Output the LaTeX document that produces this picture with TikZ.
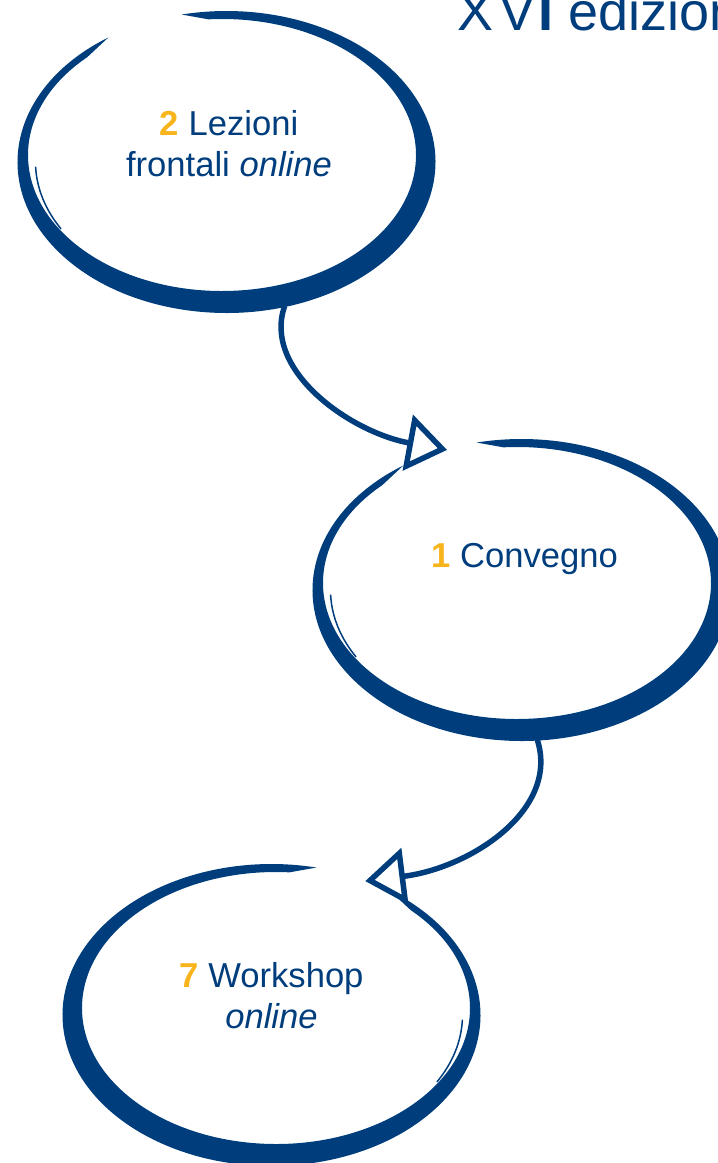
\documentclass[tikz,border=0pt]{standalone}
\usepackage{fontspec}
\setmainfont{Liberation Sans}
\usetikzlibrary{arrows.meta,shapes.geometric}

\definecolor{inkblue}{RGB}{0,61,125}
\definecolor{numorange}{RGB}{247,180,27}

\tikzset{every picture/.style={line width=0.75pt}}
\tikzset{
  ring/.style={ellipse, minimum width=208pt, minimum height=150pt, inner sep=0pt, outer sep=0pt},
  txt/.style={font=\fontsize{17.3}{20.5}\selectfont, text=inkblue, align=center, inner sep=0pt},
  connector/.style={draw=inkblue, line width=2.75pt, -{Triangle[open,length=20pt,width=28pt,line width=2.75pt]}},
}

\newcommand{\stepnum}[1]{\textcolor{numorange}{\textbf{#1}}}
% brush stroke round a ring node, #2 = 1 or -1 (mirror)
\newcommand{\brushring}[2]{%
  \begin{scope}[shift={(#1.center)},xscale=#2]
  \fill[inkblue] (235.6:209 and 151) arc[start angle=235.6,end angle=-102.4,x radius=209,y radius=151]
    -- ([shift={(-4.5,-7)}]-94:194 and 136) arc[start angle=-94,end angle=226,x radius=194,y radius=136] -- cycle;
  \draw[inkblue,line width=0.75pt] (178:191 and 134) arc[start angle=178,end angle=150,x radius=191,y radius=134];
  \end{scope}}

\begin{document}
\begin{tikzpicture}[x=0.5pt,y=0.5pt,yscale=-1,xscale=1]
\useasboundingbox (0,0) rectangle (718,1163);
\clip (0,0) rectangle (718,1163);

%Shape: Ellipse
\draw (226.5,162) node (lezioni) [ring] {};
\brushring{lezioni}{1}
%Shape: Ellipse
\draw (521.5,590) node (convegno) [ring] {};
\brushring{convegno}{1}
%Shape: Ellipse
\draw (271.5,1015) node (workshop) [ring] {};
\brushring{workshop}{-1}

%Curve Lines
\draw [connector] (lezioni.292) .. controls (262,370) and (350,432) .. (convegno.118);
%Curve Lines
\draw [connector] (convegno.276) .. controls (560,810) and (470,868) .. (workshop.55);

% Text Node
\draw (457,30) node (title) [anchor=base west, inner sep=0pt, text=inkblue, font=\fontsize{27}{32}\selectfont] {X\kern3pt V\kern1.5pt\textbf{I} edizione};
% Text Node
\draw (229,176) node (lezioni-text) [txt, anchor=base] {\stepnum{2} Lezioni\\frontali \textit{online}};
% Text Node
\draw (524.5,567) node (convegno-text) [txt, anchor=base] {\stepnum{1} Convegno};
% Text Node
\draw (271.5,1028) node (workshop-text) [txt, anchor=base] {\stepnum{7} Workshop\\\textit{online}};

\end{tikzpicture}
\end{document}
